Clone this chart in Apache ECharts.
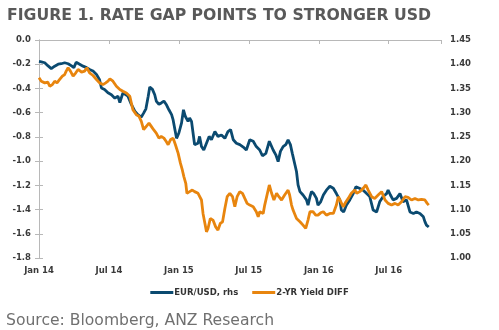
<!DOCTYPE html>
<html>
<head>
<meta charset="utf-8">
<script src="https://cdn.jsdelivr.net/npm/echarts@6/dist/echarts.min.js"></script>
<style>
html,body{margin:0;padding:0;background:#fff;}
#chart{width:499px;height:330px;}
</style>
</head>
<body>
<div id="chart"></div>
<script>
// Days since 2014-01-01 and values
const eurDays = [0,6,15,23,28,32,41,50,58,67,76,84,91,97,106,115,124,132,141,150,158,163,171,180,189,198,206,211,219,224,232,241,250,258,267,273,279,285,289,296,302,306,313,319,326,332,339,346,350,354,359,365,372,377,382,389,393,398,402,406,415,419,424,430,437,444,450,459,467,476,485,493,500,507,515,524,533,541,550,559,567,576,583,592,601,611,618,624,630,637,644,650,656,661,668,672,676,681,689,698,702,707,711,717,724,728,735,742,750,759,768,776,785,789,795,802,811,820,827,836,846,855,863,872,881,889,898,907,911,917,924,933,942,950,959,968,977,985,994,1003,1007,1011,1017];
const eurUsd = [1.406,1.405,1.403,1.397,1.393,1.391,1.396,1.400,1.401,1.403,1.401,1.397,1.393,1.404,1.400,1.396,1.393,1.389,1.386,1.379,1.368,1.351,1.348,1.341,1.337,1.330,1.334,1.321,1.341,1.344,1.334,1.317,1.303,1.296,1.291,1.299,1.308,1.334,1.353,1.348,1.337,1.324,1.317,1.320,1.324,1.317,1.306,1.296,1.285,1.268,1.247,1.258,1.279,1.306,1.292,1.282,1.289,1.282,1.258,1.234,1.237,1.251,1.230,1.223,1.237,1.251,1.244,1.261,1.251,1.254,1.247,1.261,1.265,1.244,1.237,1.234,1.229,1.223,1.244,1.241,1.230,1.223,1.211,1.216,1.241,1.223,1.213,1.199,1.220,1.230,1.234,1.244,1.234,1.216,1.192,1.178,1.151,1.137,1.130,1.120,1.109,1.126,1.137,1.133,1.123,1.109,1.116,1.130,1.140,1.148,1.144,1.133,1.120,1.099,1.095,1.109,1.120,1.133,1.147,1.144,1.140,1.133,1.127,1.099,1.095,1.116,1.127,1.133,1.140,1.130,1.120,1.123,1.133,1.116,1.120,1.095,1.092,1.095,1.092,1.085,1.075,1.068,1.064];

const diffDays = [0,6,15,23,28,35,41,47,54,61,67,71,76,82,89,96,102,111,119,125,132,141,150,158,167,174,180,185,193,202,211,219,228,237,241,245,254,261,267,273,280,287,293,299,306,313,319,326,332,337,343,350,356,363,369,374,378,383,386,393,400,406,415,424,428,433,437,441,447,454,461,467,473,479,485,491,498,505,511,517,524,531,537,543,550,559,567,572,576,585,589,594,601,607,613,620,626,633,641,650,654,659,663,672,681,689,696,702,707,715,722,728,735,742,750,759,768,776,781,785,794,801,807,815,824,829,837,846,853,859,868,876,885,894,903,911,920,929,937,946,955,963,972,981,990,998,1007,1013,1017];
const yieldDiff = [-0.312,-0.340,-0.354,-0.348,-0.382,-0.368,-0.340,-0.354,-0.326,-0.299,-0.285,-0.257,-0.229,-0.257,-0.299,-0.271,-0.243,-0.265,-0.257,-0.229,-0.271,-0.293,-0.326,-0.354,-0.368,-0.354,-0.340,-0.321,-0.340,-0.382,-0.409,-0.423,-0.437,-0.464,-0.520,-0.575,-0.617,-0.630,-0.672,-0.741,-0.713,-0.686,-0.713,-0.741,-0.769,-0.810,-0.796,-0.810,-0.838,-0.865,-0.824,-0.810,-0.865,-0.934,-1.017,-1.073,-1.128,-1.183,-1.266,-1.252,-1.239,-1.252,-1.266,-1.321,-1.432,-1.515,-1.584,-1.556,-1.474,-1.487,-1.543,-1.570,-1.515,-1.501,-1.391,-1.294,-1.266,-1.294,-1.377,-1.294,-1.252,-1.266,-1.308,-1.349,-1.363,-1.377,-1.418,-1.460,-1.418,-1.432,-1.363,-1.349,-1.197,-1.266,-1.321,-1.266,-1.294,-1.321,-1.280,-1.239,-1.280,-1.363,-1.404,-1.474,-1.501,-1.529,-1.556,-1.487,-1.418,-1.418,-1.446,-1.446,-1.427,-1.418,-1.446,-1.432,-1.432,-1.363,-1.294,-1.308,-1.377,-1.335,-1.308,-1.266,-1.239,-1.266,-1.252,-1.225,-1.197,-1.239,-1.294,-1.308,-1.280,-1.252,-1.321,-1.349,-1.363,-1.349,-1.363,-1.335,-1.294,-1.299,-1.321,-1.308,-1.321,-1.316,-1.321,-1.349,-1.363];

const xTickLabels = ['Jan 14','Jul 14','Jan 15','Jul 15','Jan 16','Jul 16'];
const xMaxDay = 1049;
const halfYear = 182.5;

const seriesNames = ['EUR/USD, rhs','2-YR Yield DIFF'];
const titleText = 'FIGURE 1. RATE GAP POINTS TO STRONGER USD';
const sourceText = 'Source: Bloomberg, ANZ Research';

const BLUE = '#0b4a70';
const ORANGE = '#e8850e';
const AXIS = '#b8b8b8';
const LABEL = '#3a3a3a';
const FONT = 'DejaVu Sans';

const chart = echarts.init(document.getElementById('chart'), null, {renderer:'canvas'});

function zip(a,b){return a.map((d,i)=>[d,b[i]]);}

const labelStyle = {color:LABEL, fontFamily:FONT, fontWeight:'bold', fontSize:8.5};

chart.setOption({
  animation:false,
  backgroundColor:'#ffffff',
  title:[
    {text:titleText, left:2, top:3, textStyle:{fontFamily:FONT, fontWeight:'bold', fontSize:15.7, color:'#595959'}},
    {text:sourceText, left:1, top:308, textStyle:{fontFamily:FONT, fontWeight:'normal', fontSize:15.6, color:'#707070'}}
  ],
  legend:{
    data:seriesNames, top:283, left:'center',
    icon:'rect', itemWidth:23, itemHeight:3, itemGap:14,
    textStyle:{color:'#333', fontFamily:FONT, fontWeight:'bold', fontSize:8.5, padding:[0,0,0,-4]}
  },
  grid:{left:39, right:58, top:40, bottom:72, containLabel:false},
  xAxis:[
    {type:'value', position:'top', min:0, max:xMaxDay, interval:halfYear,
     axisLine:{show:true, lineStyle:{color:AXIS, width:1}},
     axisTick:{show:true, inside:true, length:4, lineStyle:{color:AXIS}},
     axisLabel:{show:false}, splitLine:{show:false}},
    {type:'value', position:'bottom', min:0, max:xMaxDay, interval:halfYear,
     axisLine:{show:false}, axisTick:{show:false}, splitLine:{show:false},
     axisLabel:Object.assign({margin:8, formatter:function(v){
        const k=Math.round(v/halfYear);
        if(Math.abs(v-k*halfYear)>1 || k>=xTickLabels.length) return '';
        return xTickLabels[k];
     }}, labelStyle)}
  ],
  yAxis:[
    {type:'value', position:'left', min:-1.8, max:0, interval:0.2,
     axisLine:{show:true, lineStyle:{color:AXIS}},
     axisTick:{show:true, length:4, lineStyle:{color:AXIS}},
     splitLine:{show:false},
     axisLabel:Object.assign({margin:8, formatter:v=>v.toFixed(1)}, labelStyle)},
    {type:'value', position:'right', min:1.0, max:1.45, interval:0.05,
     axisLine:{show:true, lineStyle:{color:AXIS}},
     axisTick:{show:true, length:4, lineStyle:{color:AXIS}},
     splitLine:{show:false},
     axisLabel:Object.assign({margin:9, formatter:v=>v.toFixed(2)}, labelStyle)}
  ],
  series:[
    {name:seriesNames[0], type:'line', xAxisIndex:0, yAxisIndex:1, data:zip(eurDays,eurUsd),
     showSymbol:false, lineStyle:{color:BLUE, width:2.8}, itemStyle:{color:BLUE}},
    {name:seriesNames[1], type:'line', xAxisIndex:0, yAxisIndex:0, data:zip(diffDays,yieldDiff),
     showSymbol:false, lineStyle:{color:ORANGE, width:2.8}, itemStyle:{color:ORANGE}}
  ]
});
</script>
</body>
</html>
